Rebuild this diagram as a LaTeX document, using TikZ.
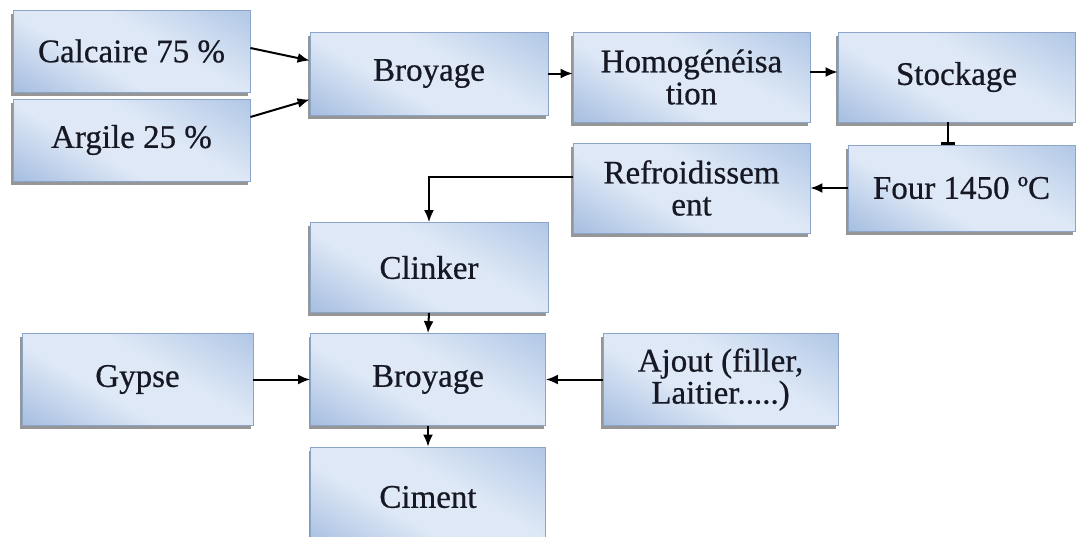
\documentclass[tikz,border=0pt]{standalone}
\usepackage{fontspec}
\setmainfont{Liberation Serif}
\newfontfamily\boxfont{Liberation Serif}[FakeBold=0.6]
\usetikzlibrary{arrows.meta,shadows}

\definecolor{boxlight}{RGB}{222,232,246}
\definecolor{boxdark}{RGB}{128,162,210}
\definecolor{boxmid}{RGB}{150,180,220}
\definecolor{boxline}{RGB}{140,164,200}
\definecolor{inkcol}{RGB}{22,24,36}

\pgfdeclarehorizontalshading{boxshade}{100bp}{color(0bp)=(boxdark); color(40bp)=(boxlight); color(58bp)=(boxlight); color(100bp)=(boxmid)}

\tikzset{
    box/.style={draw=boxline, line width=0.4pt, shading=boxshade, shading angle=60,
        minimum width=118.5pt, minimum height=41pt, inner sep=0pt, align=center,
        text=inkcol, font=\boxfont\fontsize{16.5}{16}\selectfont,
        drop shadow={shadow xshift=-1pt, shadow yshift=-1.8pt, fill=black!55, opacity=0.75}},
    flow/.style={line width=1pt, -{Latex[length=6pt,width=5pt]}},
}

\begin{document}
\begin{tikzpicture}[x=0.5pt, y=-0.5pt]
    \useasboundingbox (0, 0) rectangle (1077, 536);
    \clip (0, 0) rectangle (1077, 536);

    \node[box] (calc) at (131.5, 51) {Calcaire 75 \%};
    \node[box] (arg) at (131.5, 140) {Argile 25 \%};
    \node[box, minimum width=119pt, minimum height=41.5pt] (broy1) at (429, 73.5) {Broyage};
    \node[box, minimum height=45pt] (homog) at (691.5, 77) {Homogénéisa\\tion};
    \node[box, minimum height=45pt] (stock) at (956.5, 77) {Stockage};
    \node[box, minimum width=113.5pt, minimum height=43pt] (four) at (961.5, 188) {Four 1450 ºC};
    \node[box, minimum height=45pt] (refr) at (691.5, 188) {Refroidissem\\ent};
    \node[box, minimum width=119pt, minimum height=45pt] (clink) at (429, 267.5) {Clinker};
    \node[box, minimum width=115.5pt, minimum height=46pt] (gyp) at (137.5, 379.5) {Gypse};
    \node[box, minimum width=117.5pt, minimum height=46pt] (broy2) at (428, 379.5) {Broyage};
    \node[box, minimum width=117.5pt, minimum height=46pt] (ajout) at (720.5, 379.5) {Ajout (filler,\\Laitier.....)};
    \node[box, minimum width=117.5pt, minimum height=50pt] (cim) at (428, 497) {Ciment};

    \draw[flow] ([yshift=1.5pt]calc.east) -- ([yshift=6.5pt]broy1.west);
    \draw[flow] ([yshift=11.5pt]arg.east) -- ([yshift=-13pt]broy1.west);
    \draw[flow] (broy1.east) -- (broy1.east -| homog.west);
    \draw[flow] ([yshift=2.5pt]homog.east) -- ([yshift=2.5pt]stock.west);
    \draw[line width=1pt, -{Bar[width=7pt,line width=1.2pt]}] ([xshift=-4.5pt]stock.south) -- ([xshift=-4.5pt]stock.south |- four.north);
    \draw[flow] (four.west) -- (refr.east);
    \draw[flow] ([yshift=5.5pt]refr.west) -| (clink.north);
    \draw[flow] (clink.south) -- (broy2.north);
    \draw[flow] (gyp.east) -- (broy2.west);
    \draw[flow] (ajout.west) -- (broy2.east);
    \draw[flow] (broy2.south) -- (cim.north);
\end{tikzpicture}
\end{document}
